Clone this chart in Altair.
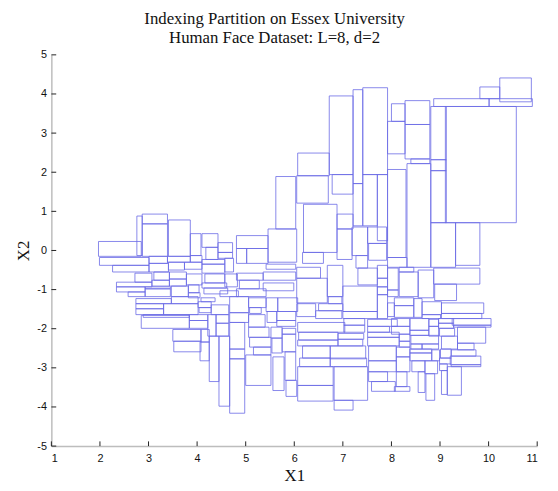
import altair as alt
import pandas as pd

# Rectangles of the indexing partition (data units): left, right, top, bottom
x_left = [10.23, 9.82, 8.87, 10.01, 9.11, 9.32, 8.81, 8.81, 8.81, 8.81, 8.28, 8.28, 8.00, 7.92, 8.40, 8.32, 7.92, 7.92,
          6.72, 7.21, 7.41, 6.07, 6.05, 5.62, 6.78, 7.41, 7.71, 7.21, 7.19, 7.51, 7.53, 6.88, 6.88, 6.19, 6.17, 5.46,
          7.27, 7.31, 7.71, 7.71, 7.71, 7.71, 7.92, 7.92, 8.16, 8.16, 8.55, 8.87, 8.89, 8.06, 8.06, 7.92, 8.46, 8.63,
          8.63, 9.03, 9.03, 9.25, 9.28, 9.36, 9.36, 9.23, 9.21, 9.23, 8.97, 8.97, 8.99, 9.03, 9.01, 8.99, 8.99, 9.03,
          9.15, 8.77, 8.77, 8.38, 8.38, 8.40, 8.40, 8.63, 8.38, 8.38, 8.83, 8.42, 8.69, 8.55, 8.71, 8.00, 8.00, 8.16,
          8.16, 7.51, 7.51, 8.10, 8.10, 8.10, 8.06, 7.53, 7.53, 7.53, 7.51, 7.51, 7.59, 6.07, 7.02, 7.02, 6.09, 6.90,
          6.07, 6.90, 6.17, 6.74, 6.11, 6.74, 6.07, 6.07, 6.82, 6.82, 6.05, 6.05, 6.68, 6.70, 7.00, 7.00, 6.50, 6.05,
          6.44, 4.81, 5.02, 4.81, 5.42, 5.36, 5.36, 4.81, 4.87, 4.81, 5.06, 5.08, 5.42, 5.44, 5.66, 5.64, 5.64, 5.06,
          5.06, 5.08, 5.16, 5.00, 5.52, 5.54, 5.56, 5.75, 5.75, 5.81, 5.83, 4.67, 4.67, 4.67, 4.67, 4.67, 4.45, 4.25,
          4.22, 4.39, 4.39, 4.06, 3.50, 3.52, 4.08,
          1.97, 2.76, 2.87, 2.87, 3.41, 3.86, 4.10, 4.18, 4.43, 4.43, 1.99, 3.01, 3.39, 3.86, 4.10, 2.26, 3.01, 3.41,
          3.74, 4.10, 4.57, 2.72, 3.11, 3.43, 3.78, 4.16, 4.57, 2.34, 3.07, 3.43, 2.34, 2.93, 3.47, 3.82, 4.10, 4.14,
          2.58, 2.93, 3.82, 4.47, 2.74, 2.74, 2.74, 3.31, 3.47, 4.02, 4.04, 4.08, 4.29, 2.85, 2.89, 3.84, 3.84]
x_right = [10.88, 10.23, 10.01, 10.90, 10.57, 9.82, 9.13, 9.13, 9.13, 9.32, 8.79, 8.79, 8.28, 8.28, 8.79, 8.81, 8.30, 8.32,
           7.21, 7.41, 7.92, 6.72, 6.70, 6.03, 7.21, 7.71, 7.92, 7.41, 7.51, 7.90, 7.90, 7.21, 7.19, 6.88, 6.60, 6.05,
           7.51, 7.71, 7.92, 7.92, 7.92, 7.92, 8.14, 8.14, 8.55, 8.46, 8.87, 9.82, 9.34, 8.46, 8.46, 8.06, 8.63, 9.03,
           9.01, 9.90, 9.86, 10.05, 10.05, 9.94, 9.70, 9.74, 9.84, 9.84, 9.28, 9.28, 9.30, 9.36, 9.23, 9.23, 9.15, 9.15,
           9.44, 8.97, 8.97, 8.77, 8.77, 8.97, 8.63, 8.97, 8.83, 8.83, 8.99, 8.69, 8.95, 8.69, 8.89, 8.38, 8.38, 8.38,
           8.38, 8.16, 8.16, 8.38, 8.38, 8.32, 8.38, 8.10, 8.10, 7.92, 8.12, 7.96, 8.08, 7.04, 7.45, 7.45, 6.90, 7.43,
           6.90, 7.41, 6.74, 7.47, 6.74, 7.49, 6.80, 6.80, 7.51, 7.21, 6.54, 6.68, 7.00, 6.98, 7.71, 7.71, 7.00, 6.44,
           6.98, 5.46, 5.46, 5.02, 6.03, 6.03, 5.99, 5.36, 5.28, 5.42, 5.42, 5.32, 5.66, 5.64, 6.07, 6.03, 6.03, 5.40,
           5.48, 5.52, 5.52, 5.52, 5.75, 5.75, 5.79, 6.03, 6.03, 6.03, 6.05, 5.06, 5.06, 4.98, 4.98, 4.98, 4.67, 4.45,
           4.39, 4.65, 4.65, 4.25, 4.08, 4.08, 4.25,
           2.85, 2.87, 3.39, 3.39, 3.86, 4.08, 4.43, 4.43, 4.73, 4.73, 3.01, 3.39, 3.86, 4.10, 4.57, 3.01, 3.41, 3.74,
           4.10, 4.57, 4.75, 3.07, 3.43, 3.78, 4.10, 4.57, 4.83, 3.07, 3.43, 3.78, 2.93, 3.45, 3.82, 4.04, 4.61, 4.63,
           2.93, 3.45, 4.06, 4.85, 3.47, 3.31, 3.31, 4.02, 4.02, 4.29, 4.29, 4.37, 4.65, 3.84, 3.84, 4.22, 4.22]
y_top = [4.41, 4.18, 3.88, 3.88, 3.68, 0.71, 3.68, 2.32, 2.04, 0.71, 3.83, 3.22, 3.75, 3.30, 2.34, 2.22, 2.07, -0.18,
         3.95, 4.11, 4.16, 2.49, 1.91, 1.89, 1.94, 1.94, 1.94, 1.71, 0.60, 0.60, 0.18, 0.93, 0.55, 1.18, -0.05, 0.55,
         -0.13, -0.45, -0.38, -0.71, -0.93, -1.13, -0.45, -1.01, -0.55, -0.43, -0.50, -0.45, -0.86, -1.21, -1.41, -1.34, -1.23, -1.31,
         -1.64, -1.34, -1.61, -1.74, -1.91, -1.96, -2.37, -2.54, -2.70, -2.92, -1.74, -1.86, -1.99, -2.19, -2.52, -2.75, -2.90, -3.07,
         -2.97, -1.76, -1.94, -1.74, -2.04, -2.17, -2.39, -2.39, -2.52, -2.62, -2.54, -2.82, -2.82, -3.10, -3.15, -1.74, -1.94, -2.14,
         -2.32, -2.22, -2.09, -2.47, -2.72, -3.10, -3.48, -2.44, -2.82, -3.10, -1.76, -1.94, -3.35, -1.84, -1.74, -1.91, -2.09, -2.12,
         -2.29, -2.27, -2.44, -2.44, -2.75, -2.75, -2.97, -3.45, -2.97, -3.83, -0.43, -0.71, -0.38, -1.18, -0.91, -1.56, -1.36, -1.36,
         -1.54, 0.38, 0.05, 0.05, -0.35, -0.55, -0.83, -0.58, -0.76, -0.98, -1.21, -1.46, -1.21, -1.56, -1.21, -1.56, -1.79, -1.64,
         -1.96, -2.22, -2.47, -2.67, -1.96, -2.24, -2.72, -1.99, -2.14, -2.59, -3.32, -1.18, -1.59, -2.52, -2.77, -1.84, -2.19, -2.19,
         -1.64, -1.64, -1.86, -2.34, -2.02, -2.32, -2.02,
         0.23, 0.88, 0.93, 0.68, 0.78, 0.43, 0.43, 0.08, 0.20, -0.05, -0.18, -0.15, -0.15, -0.13, -0.23, -0.38, -0.33, -0.30,
         -0.30, -0.35, -0.20, -0.58, -0.55, -0.55, -0.60, -0.60, -0.60, -0.81, -0.76, -0.73, -0.93, -0.93, -0.91, -0.88, -0.83, -0.96,
         -1.06, -0.98, -1.08, -1.03, -1.23, -1.36, -1.49, -1.36, -1.18, -1.31, -1.46, -1.21, -1.39, -1.66, -1.64, -1.79, -1.64]
y_bottom = [3.80, 3.88, 3.68, 3.68, 0.71, -0.38, 2.32, 2.04, 0.71, -0.43, 3.22, 2.34, 3.30, 2.47, 2.22, -0.43, -0.18, -0.43,
            1.94, 1.71, 1.94, 1.91, 1.21, 0.55, 1.44, 0.63, 0.25, 0.63, -0.13, 0.18, -0.25, 0.55, -0.23, -0.05, -0.33, -0.30,
            -0.45, -0.88, -0.71, -0.93, -1.13, -1.74, -1.01, -1.18, -1.18, -0.55, -1.21, -0.86, -1.28, -1.41, -1.71, -1.69, -1.71, -1.64,
            -1.74, -1.61, -1.74, -1.91, -1.96, -2.37, -2.54, -2.70, -2.92, -2.97, -1.86, -1.99, -2.19, -2.52, -2.75, -2.90, -3.07, -3.68,
            -3.70, -1.94, -2.19, -2.04, -2.17, -2.39, -2.52, -2.52, -2.62, -2.82, -2.82, -3.10, -3.15, -3.63, -3.83, -1.94, -2.14, -2.32,
            -2.47, -2.44, -2.22, -2.72, -3.10, -3.48, -3.60, -2.82, -3.10, -3.35, -1.94, -2.09, -3.60, -2.09, -1.91, -2.09, -2.29, -2.27,
            -2.44, -2.44, -2.75, -2.77, -2.97, -2.97, -3.45, -3.85, -3.83, -4.08, -0.71, -1.34, -1.18, -1.36, -1.56, -1.74, -1.54, -1.69,
            -1.74, 0.05, -0.33, -0.33, -0.48, -0.76, -1.03, -0.76, -0.98, -1.18, -1.46, -1.61, -1.56, -1.84, -1.56, -1.79, -1.94, -1.96,
            -2.22, -2.47, -2.67, -3.45, -2.24, -2.62, -3.58, -2.14, -2.59, -3.32, -3.73, -1.59, -1.84, -2.77, -4.16, -2.52, -3.98, -3.35,
            -2.19, -1.86, -2.19, -2.82, -2.32, -2.59, -2.34,
            -0.15, -0.13, 0.68, -0.15, -0.15, -0.13, 0.08, -0.23, -0.05, -0.20, -0.38, -0.33, -0.30, -0.30, -0.35, -0.55, -0.55, -0.50,
            -0.48, -0.58, -0.55, -0.81, -0.76, -0.73, -0.88, -0.83, -0.93, -0.93, -0.91, -0.91, -1.06, -0.98, -1.18, -1.08, -0.96, -1.11,
            -1.18, -1.18, -1.21, -1.18, -1.36, -1.49, -1.64, -1.64, -1.36, -1.46, -1.59, -1.31, -1.64, -1.99, -1.71, -1.99, -1.79]

x_ticks = [1, 2, 3, 4, 5, 6, 7, 8, 9, 10, 11]
y_ticks = [-5, -4, -3, -2, -1, 0, 1, 2, 3, 4, 5]

df = pd.DataFrame({"x1": x_left, "x2": x_right, "y1": y_top, "y2": y_bottom})

xs = alt.Scale(domain=[1, 11], nice=False, zero=False)
ys = alt.Scale(domain=[-5, 5], nice=False, zero=False)

x_axis = alt.Axis(values=x_ticks, title="X1", ticks=False, grid=False, labelPadding=7,
                  titlePadding=4, labelOverlap=False, labelExpr="'' + datum.value")
y_axis = alt.Axis(values=y_ticks, title="X2", ticks=False, grid=False, labelPadding=5,
                  titlePadding=4, labelOverlap=False, labelExpr="'' + datum.value")

rects = alt.Chart(df).mark_rect(
    fill="white", fillOpacity=0, stroke="#6a6ae6", strokeWidth=1, strokeOpacity=0.8
).encode(
    x=alt.X("x1:Q", scale=xs, axis=x_axis),
    x2="x2:Q",
    y=alt.Y("y1:Q", scale=ys, axis=y_axis),
    y2="y2:Q",
)

xt = alt.Chart(pd.DataFrame({"t": x_ticks})).transform_calculate(
    b="-5", e="-5 + 0.12"
).mark_rule(color="#222222", strokeWidth=1).encode(
    x=alt.X("t:Q", scale=xs, axis=x_axis),
    y=alt.Y("b:Q", scale=ys, axis=y_axis),
    y2="e:Q",
)
yt = alt.Chart(pd.DataFrame({"t": y_ticks})).transform_calculate(
    b="1", e="1 + 0.1"
).mark_rule(color="#222222", strokeWidth=1).encode(
    y=alt.Y("t:Q", scale=ys, axis=y_axis),
    x=alt.X("b:Q", scale=xs, axis=x_axis),
    x2="e:Q",
)

chart = alt.layer(rects, xt, yt).properties(
    width=493,
    height=397,
    autosize=alt.AutoSizeParams(type="none"),
    padding={"left": 44, "top": 44, "right": 13, "bottom": 40},
    title=alt.TitleParams(
        text=["Indexing Partition on Essex University", "Human Face Dataset: L=8, d=2"],
        font="Liberation Serif", fontSize=17, fontWeight="normal", lineHeight=19,
        color="#111111", dx=-20, offset=2, anchor="middle",
    ),
).configure_view(stroke=None).configure_axis(
    domainColor="#bdbdbd", domainWidth=1.5,
    labelFont="Liberation Sans", labelFontSize=11, labelColor="#111111",
    titleFont="Liberation Serif", titleFontSize=17, titleFontWeight="normal", titleColor="#111111",
)

chart.save("out.html", embed_options={"renderer": "svg", "actions": False})
